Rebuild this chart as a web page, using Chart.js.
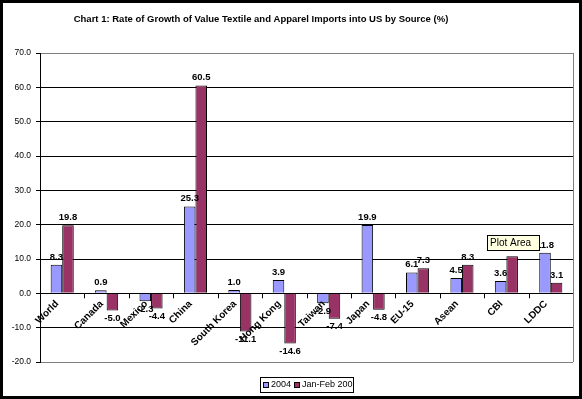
<!DOCTYPE html>
<html><head><meta charset="utf-8">
<script src="https://cdn.jsdelivr.net/npm/chart.js@4/dist/chart.umd.min.js"></script>
<style>html,body{margin:0;padding:0;background:#fff}#wrap{width:582px;height:399px;position:relative}</style>
</head><body><div id="wrap"><canvas id="c"></canvas></div>
<script>
const title = 'Chart 1: Rate of Growth of Value Textile and Apparel Imports into US by Source (%)';
const categories = ['World','Canada','Mexico','China','South Korea','Hong Kong','Taiwan','Japan','EU-15','Asean','CBI','LDDC'];
const series2004 = [8.3, 0.9, -2.3, 25.3, 1.0, 3.9, -2.9, 19.9, 6.1, 4.5, 3.6, 11.8];
const series2005 = [19.8, -5.0, -4.4, 60.5, -11.1, -14.6, -7.4, -4.8, 7.3, 8.3, 10.8, 3.1];
const seriesNames = ['2004', 'Jan-Feb 2005'];
const seriesColors = ['#9999FF', '#993366'];
const yMin = -20, yMax = 70, yStep = 10;

const FONT = '"Liberation Sans", Arial, sans-serif';

const deco = {
  id: 'deco',
  afterDatasetsDraw(chart) {
    const ctx = chart.ctx, ca = chart.chartArea;
    const xs = chart.scales.x, ys = chart.scales.y;
    const y0 = ys.getPixelForValue(0);
    ctx.save();
    // right border of plot area
    ctx.strokeStyle = '#808080'; ctx.lineWidth = 1;
    ctx.beginPath(); ctx.moveTo(Math.round(ca.right) + 0.5, ca.top); ctx.lineTo(Math.round(ca.right) + 0.5, ca.bottom); ctx.stroke();
    // zero axis line + ticks
    ctx.strokeStyle = '#000';
    ctx.beginPath(); ctx.moveTo(ca.left, Math.round(y0) + 0.5); ctx.lineTo(ca.right, Math.round(y0) + 0.5); ctx.stroke();
    const n = categories.length, w = (ca.right - ca.left) / n;
    for (let i = 1; i < n; i++) {
      const x = Math.round(ca.left + i * w) + 0.5;
      ctx.beginPath(); ctx.moveTo(x, y0); ctx.lineTo(x, y0 + 5); ctx.stroke();
    }
    // data labels
    ctx.fillStyle = '#000';
    ctx.font = 'bold 9.5px ' + FONT;
    ctx.textAlign = 'center';
    chart.data.datasets.forEach((ds, di) => {
      const meta = chart.getDatasetMeta(di);
      meta.data.forEach((el, i) => {
        const v = ds.data[i];
        if (v >= 0) { ctx.textBaseline = 'bottom'; ctx.fillText(v.toFixed(1), el.x, el.y - 3); }
        else { ctx.textBaseline = 'top'; ctx.fillText(v.toFixed(1), el.x, el.y + 3); }
      });
    });
    // category labels rotated
    ctx.font = 'bold 10px ' + FONT;
    categories.forEach((c, i) => {
      const cx = xs.getPixelForValue(i);
      ctx.save();
      ctx.translate(cx - 5, y0 + 9);
      ctx.rotate(-Math.PI / 4);
      ctx.textAlign = 'right'; ctx.textBaseline = 'middle';
      ctx.fillText(c, 0, 0);
      ctx.restore();
    });
    // "Plot Area" hover tip
    ctx.fillStyle = '#FFFFE1'; ctx.fillRect(487, 235, 53, 16);
    ctx.strokeStyle = '#000'; ctx.strokeRect(487.5, 235.5, 52, 15);
    ctx.fillStyle = '#000'; ctx.font = '10px ' + FONT; ctx.textAlign = 'left'; ctx.textBaseline = 'middle';
    ctx.fillText('Plot Area', 490, 243);
    // title
    ctx.font = 'bold 9.5px ' + FONT; ctx.textAlign = 'center'; ctx.textBaseline = 'middle';
    ctx.fillText(title, 261, 19);
    // legend
    const lx = 260, ly = 377, lw = 93, lh = 15;
    ctx.fillStyle = '#fff'; ctx.fillRect(lx, ly, lw, lh);
    ctx.strokeStyle = '#000'; ctx.strokeRect(lx + 0.5, ly + 0.5, lw, lh);
    ctx.save();
    ctx.beginPath(); ctx.rect(lx + 1, ly + 1, lw - 1, lh - 1); ctx.clip();
    ctx.font = '9px ' + FONT; ctx.textBaseline = 'middle'; ctx.textAlign = 'left';
    let x = lx + 3;
    seriesNames.forEach((s, i) => {
      ctx.fillStyle = seriesColors[i]; ctx.fillRect(x, ly + 5, 5, 5);
      ctx.strokeStyle = '#000'; ctx.strokeRect(x + 0.5, ly + 5.5, 5, 5);
      x += 8;
      ctx.fillStyle = '#000'; ctx.fillText(s, x, ly + 8);
      x += ctx.measureText(s).width + 3;
    });
    ctx.restore();
    // outer frame
    ctx.strokeStyle = '#000'; ctx.lineWidth = 3;
    ctx.strokeRect(1.5, 1.5, 579, 396);
    ctx.restore();
  }
};

new Chart(document.getElementById('c'), {
  type: 'bar',
  data: {
    labels: categories,
    datasets: [
      { label: seriesNames[0], data: series2004, backgroundColor: seriesColors[0], borderColor: '#000', borderWidth: 1 },
      { label: seriesNames[1], data: series2005, backgroundColor: seriesColors[1], borderColor: '#000', borderWidth: 1 }
    ]
  },
  options: {
    responsive: true, maintainAspectRatio: false, animation: false,
    layout: { padding: { left: 0, top: 53, right: 9, bottom: 37 } },
    categoryPercentage: 0.52, barPercentage: 1.0,
    plugins: { legend: { display: false }, tooltip: { enabled: false } },
    scales: {
      x: { display: false },
      y: {
        min: yMin, max: yMax,
        afterFit(s) { s.width = 40; },
        ticks: { stepSize: yStep, color: '#000', font: { family: FONT, size: 8.5 }, padding: 5, callback: v => v.toFixed(1) },
        grid: { color: c => (c.tick && (c.tick.value === yMax || c.tick.value === yMin)) ? '#808080' : '#000', tickColor: '#000', tickLength: 4 },
        border: { display: true, color: '#000' }
      }
    }
  },
  plugins: [deco]
});
</script></body></html>
